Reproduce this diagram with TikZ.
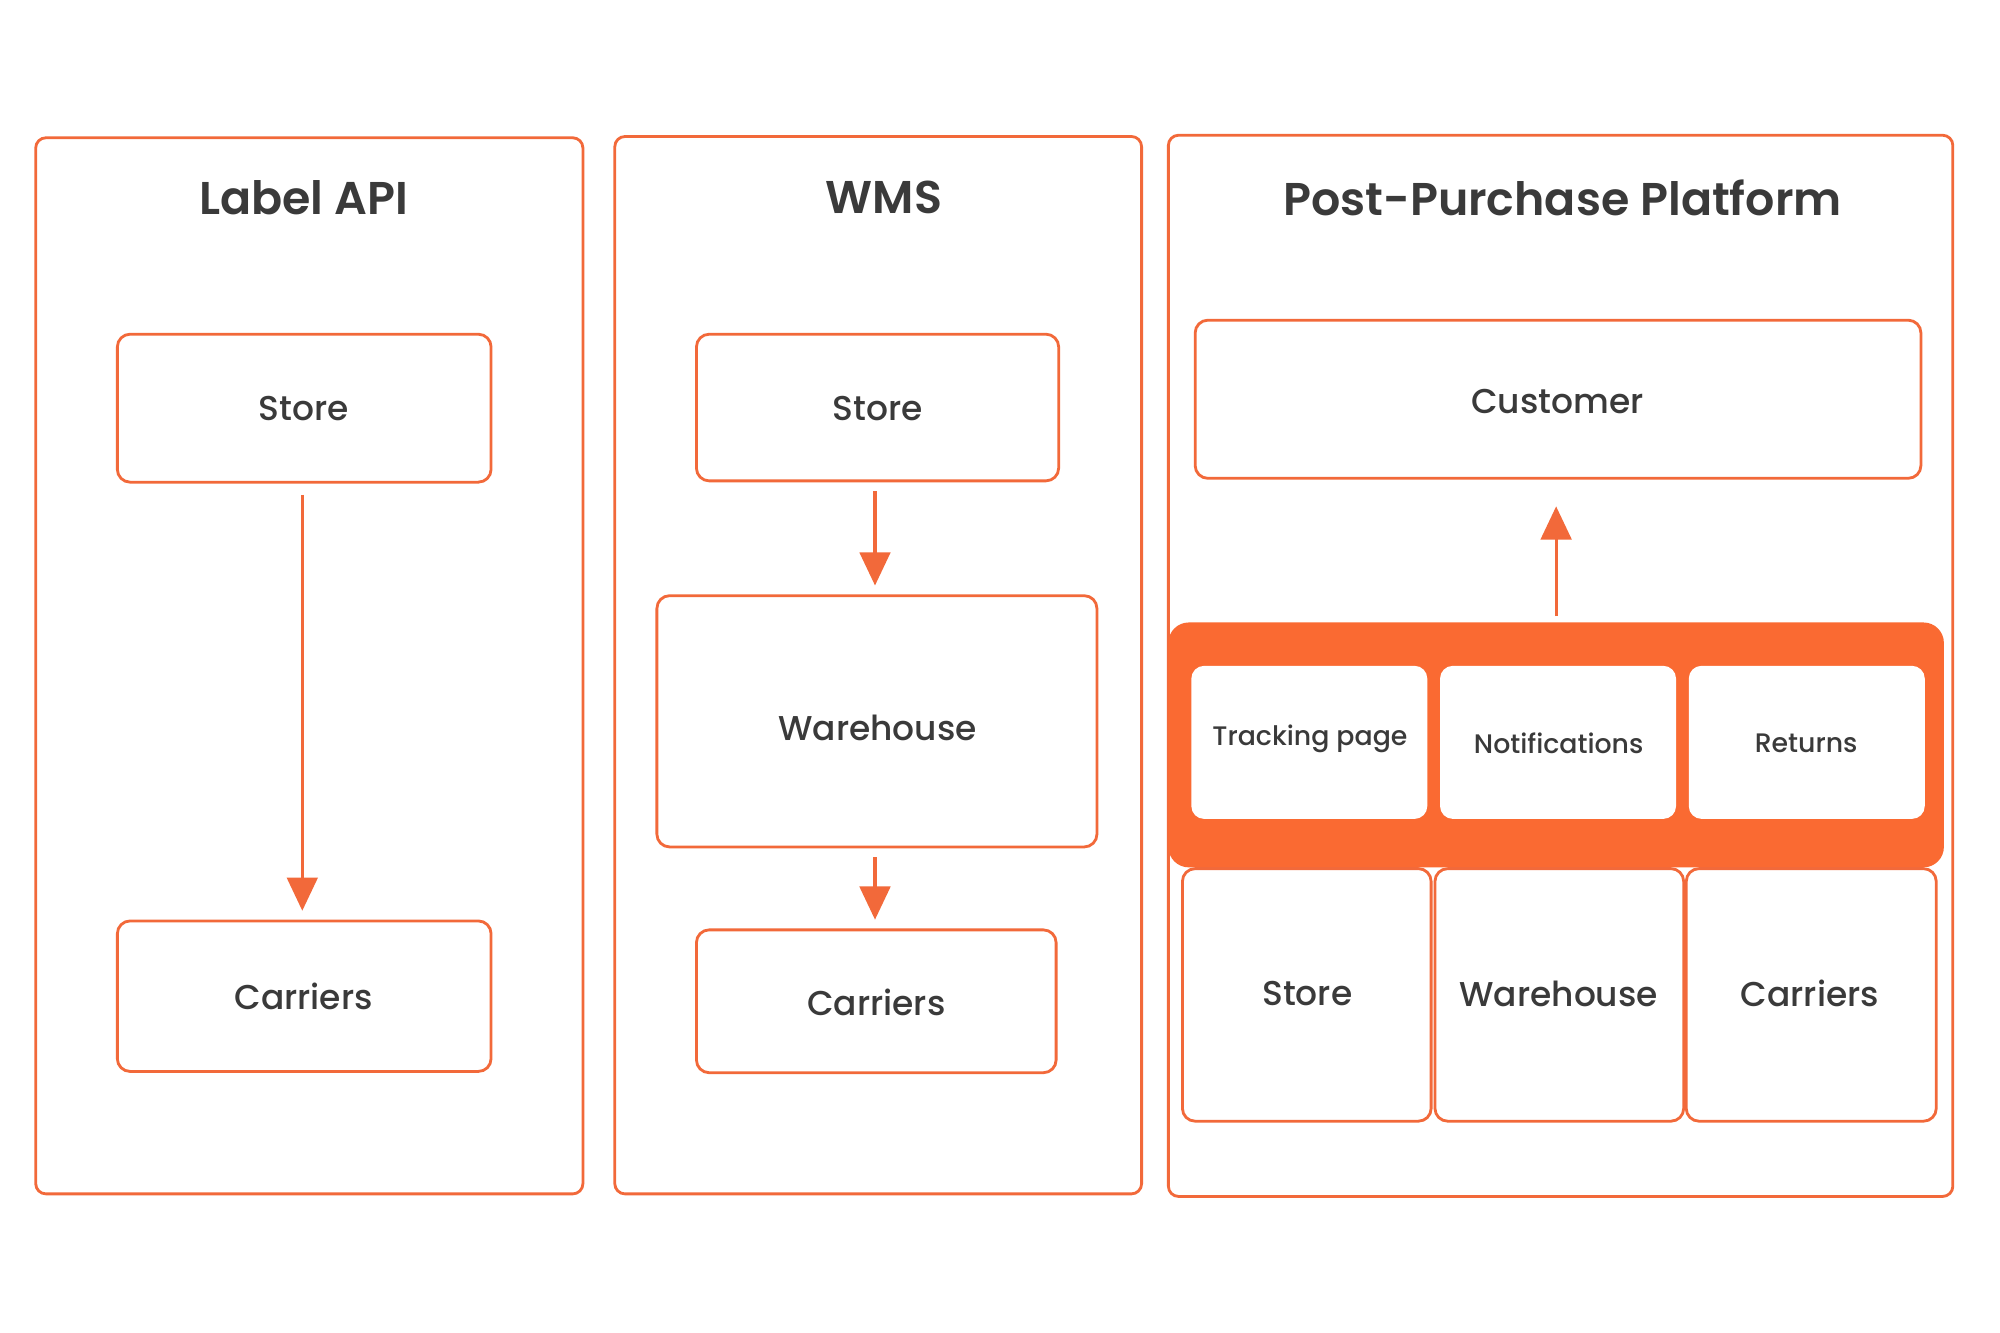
\documentclass[tikz,border=0pt]{standalone}
\usepackage{fontspec}
\setmainfont{Poppins}[UprightFont=* Medium,BoldFont=* SemiBold]
\usetikzlibrary{arrows.meta}
\definecolor{org}{HTML}{F2693A}
\definecolor{band}{HTML}{FA6A32}
\definecolor{txt}{HTML}{3A3A3A}
\begin{document}
\begin{tikzpicture}[x=0.5pt,y=-0.5pt,
 panel/.style={draw=org,line width=1.1pt,rounded corners=4pt},
 box/.style={draw=org,line width=1.1pt,rounded corners=5pt,fill=white},
 inner/.style={fill=white,rounded corners=5pt},
 title/.style={text=txt,font=\fontsize{18}{20}\selectfont\bfseries},
 lab/.style={text=txt,font=\fontsize{13.5}{16}\selectfont},
 slab/.style={text=txt,font=\fontsize{10.5}{12}\selectfont},
 arr/.style={draw=org,line width=1.2pt,-{Triangle[width=12pt,length=13pt]}}]
\fill[white!97!black!2] (0,0) rectangle (1568,1045);
\useasboundingbox (0,0) rectangle (1568,1045);
% panel 1
\draw[panel] (28,108) rectangle (457,936);
\node[title] (t1) at (238,155) {Label API};
\draw[box] (92,262) rectangle (385,378); \node[lab] (s1) at (238,320) {Store};
\draw[box] (92,722) rectangle (385,840); \node[lab] (c1) at (238,781) {Carriers};
\coordinate (a1) at (237,388); \coordinate (b1) at (237,714);
\draw[arr] (a1) -- (b1);
% panel 2
\draw[panel] (482,107) rectangle (895,936);
\node[title] (t2) at (693,155) {WMS};
\draw[box] (546,262) rectangle (830,377); \node[lab] (s2) at (688,320) {Store};
\draw[box] (515,467) rectangle (860,664); \node[lab] (w2) at (688,571) {Warehouse};
\draw[box] (546,729) rectangle (828,841); \node[lab] (c2) at (687,786) {Carriers};
\coordinate (a2) at (686,385); \coordinate (b2) at (686,459);
\coordinate (a3) at (686,672); \coordinate (b3) at (686,721);
\draw[arr] (a2) -- (b2); \draw[arr] (a3) -- (b3);
% panel 3
\draw[panel] (916,106) rectangle (1531,938);
\node[title] (t3) at (1225,155) {Post-Purchase Platform};
\draw[box] (937,251) rectangle (1506,375); \node[lab] (cu) at (1221,315) {Customer};
\coordinate (a4) at (1220,483); \coordinate (b4) at (1220,397);
\draw[arr] (a4) -- (b4);
\fill[band,rounded corners=8pt] (916,488) rectangle (1524,680);
\fill[inner] (934,522) rectangle (1119,642); \node[slab] (tp) at (1027,579) {Tracking page};
\fill[inner] (1129,522) rectangle (1314,642); \node[slab] (no) at (1222,583) {Notifications};
\fill[inner] (1324,522) rectangle (1509,642); \node[slab] (re) at (1416,583) {Returns};
\draw[box] (927,681) rectangle (1122,879); \node[lab] (s3) at (1025,779) {Store};
\draw[box] (1125,681) rectangle (1320,879); \node[lab] (w3) at (1222,779) {Warehouse};
\draw[box] (1322,681) rectangle (1518,879); \node[lab] (c3) at (1419,779) {Carriers};
\end{tikzpicture}
\end{document}
